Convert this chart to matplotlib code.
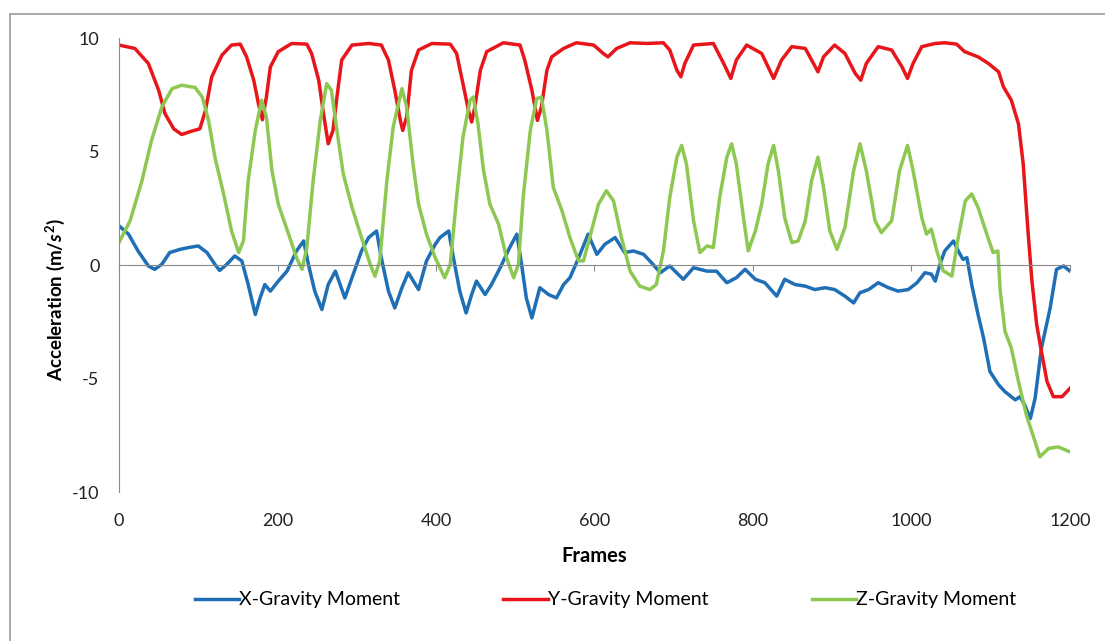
import matplotlib.pyplot as plt
from matplotlib.patches import Rectangle

plt.rcParams['font.family'] = ['Lato', 'DejaVu Sans']
plt.rcParams['axes.unicode_minus'] = False
plt.rcParams['mathtext.fontset'] = 'custom'
plt.rcParams['mathtext.rm'] = 'Lato:bold'
plt.rcParams['mathtext.it'] = 'Lato:italic:bold'

# X-Gravity Moment (blue)
x_frames = [0, 12, 24, 37, 45, 54, 64, 77, 88, 100, 111, 121, 127, 136, 146, 155, 163, 172, 178,
            184, 191, 201, 212, 224, 233, 239, 247, 256, 264, 273, 285, 294, 306, 315, 325, 331,
            340, 348, 357, 365, 378, 388, 399, 405, 416, 422, 430, 438, 445, 451, 462, 470, 481,
            493, 502, 508, 514, 521, 531, 542, 552, 561, 569, 580, 592, 603, 613, 626, 638, 649,
            662, 672, 683, 695, 712, 725, 742, 754, 767, 779, 790, 803, 815, 830, 840, 853, 866,
            878, 891, 903, 916, 927, 935, 946, 958, 971, 983, 996, 1007, 1017, 1025, 1030, 1036,
            1042, 1053, 1059, 1065, 1070, 1076, 1084, 1091, 1099, 1110, 1118, 1131, 1137, 1143,
            1150, 1156, 1164, 1175, 1183, 1192, 1200]
x_vals = [1.73, 1.36, 0.62, -0.04, -0.19, 0.03, 0.55, 0.69, 0.77, 0.84, 0.55, 0.03, -0.24, 0.03,
          0.4, 0.18, -0.86, -2.18, -1.45, -0.86, -1.15, -0.71, -0.27, 0.62, 1.06, 0.03, -1.15,
          -1.96, -0.86, -0.27, -1.45, -0.56, 0.62, 1.21, 1.5, 0.32, -1.15, -1.89, -1.0, -0.34,
          -1.08, 0.18, 0.91, 1.21, 1.5, 0.32, -1.15, -2.11, -1.3, -0.71, -1.3, -0.86, -0.12, 0.77,
          1.36, 0.03, -1.45, -2.33, -1.0, -1.3, -1.45, -0.86, -0.56, 0.32, 1.36, 0.47, 0.91, 1.21,
          0.55, 0.62, 0.47, 0.1, -0.34, -0.04, -0.63, -0.12, -0.27, -0.27, -0.78, -0.56, -0.19,
          -0.63, -0.78, -1.37, -0.63, -0.86, -0.93, -1.08, -1.0, -1.08, -1.37, -1.67, -1.22,
          -1.08, -0.78, -1.0, -1.15, -1.08, -0.78, -0.34, -0.4, -0.71, 0.04, 0.62, 1.06, 0.62,
          0.25, 0.32, -0.86, -2.18, -3.22, -4.69, -5.28, -5.58, -5.94, -5.8, -6.17, -6.76, -5.87,
          -3.66, -1.89, -0.19, -0.04, -0.27]

# Y-Gravity Moment (red)
y_frames = [0, 20, 37, 50, 58, 69, 79, 92, 102, 109, 117, 130, 142, 153, 161, 170, 176, 181,
            186, 191, 201, 218, 237, 243, 252, 258, 264, 270, 275, 281, 294, 315, 331, 340, 348,
            355, 358, 363, 369, 378, 395, 418, 426, 434, 441, 445, 449, 456, 464, 485, 506, 512,
            521, 528, 533, 540, 546, 561, 577, 599, 611, 617, 628, 645, 666, 687, 695, 704, 709,
            714, 725, 750, 763, 772, 779, 792, 811, 826, 836, 849, 866, 874, 882, 889, 903, 916,
            929, 936, 943, 958, 975, 988, 995, 1002, 1013, 1030, 1042, 1057, 1067, 1084, 1097,
            1110, 1116, 1126, 1135, 1141, 1147, 1152, 1158, 1164, 1171, 1179, 1190, 1200]
y_vals = [9.69, 9.54, 8.88, 7.7, 6.67, 6.0, 5.75, 5.9, 6.0, 6.8, 8.29, 9.25, 9.69, 9.73, 9.17,
          8.14, 7.1, 6.4, 7.4, 8.73, 9.4, 9.76, 9.73, 9.32, 8.14, 6.67, 5.34, 5.93, 7.4, 9.03,
          9.69, 9.76, 9.69, 9.03, 7.7, 6.37, 5.93, 6.52, 8.58, 9.47, 9.76, 9.73, 9.32, 7.99, 6.81,
          6.3, 6.96, 8.58, 9.4, 9.79, 9.69, 9.03, 7.7, 6.37, 6.96, 8.58, 9.17, 9.54, 9.79, 9.69,
          9.32, 9.17, 9.54, 9.79, 9.76, 9.79, 9.47, 8.58, 8.29, 8.88, 9.69, 9.76, 8.88, 8.22, 9.03,
          9.69, 9.32, 8.22, 9.03, 9.62, 9.54, 9.03, 8.51, 9.17, 9.69, 9.32, 8.44, 8.14, 8.88,
          9.62, 9.47, 8.73, 8.22, 8.88, 9.62, 9.76, 9.79, 9.73, 9.4, 9.17, 8.88, 8.51, 7.85,
          7.26, 6.22, 4.45, 1.5, -0.71, -2.63, -3.81, -5.13, -5.8, -5.8, -5.43]

# Z-Gravity Moment (green)
z_frames = [0, 14, 29, 41, 54, 67, 79, 96, 105, 113, 121, 132, 142, 151, 157, 163, 172, 180,
            186, 193, 201, 214, 224, 231, 237, 245, 254, 262, 268, 275, 283, 294, 306, 317, 323,
            329, 338, 346, 357, 363, 371, 378, 388, 399, 411, 418, 426, 434, 443, 447, 453, 460,
            468, 479, 489, 498, 504, 510, 519, 527, 533, 540, 548, 559, 569, 580, 586, 594, 605,
            615, 624, 634, 645, 657, 670, 678, 687, 695, 704, 710, 716, 725, 733, 742, 750, 758,
            767, 773, 779, 788, 794, 803, 811, 819, 826, 832, 840, 849, 857, 866, 874, 882, 889,
            897, 906, 916, 927, 935, 943, 954, 962, 975, 985, 995, 1002, 1013, 1019, 1025, 1032,
            1040, 1051, 1059, 1068, 1076, 1084, 1095, 1103, 1109, 1112, 1118, 1126, 1135, 1145,
            1156, 1162, 1173, 1185, 1200]
z_vals = [0.99, 1.95, 3.72, 5.49, 6.96, 7.77, 7.92, 7.82, 7.4, 6.37, 4.75, 3.13, 1.5, 0.55,
          1.06, 3.72, 5.93, 7.26, 6.52, 4.16, 2.68, 1.36, 0.32, -0.19, 0.77, 3.72, 6.37, 7.99,
          7.7, 5.93, 4.01, 2.54, 1.21, 0.03, -0.49, 0.18, 3.72, 6.08, 7.77, 6.96, 4.45, 2.68,
          1.36, 0.32, -0.56, 0.03, 2.98, 5.63, 7.26, 7.4, 6.22, 4.16, 2.68, 1.8, 0.32, -0.56,
          0.03, 2.98, 5.93, 7.33, 7.4, 5.93, 3.42, 2.39, 1.21, 0.18, 0.18, 1.21, 2.68, 3.27,
          2.83, 1.21, -0.27, -0.93, -1.08, -0.86, 0.62, 2.98, 4.75, 5.27, 4.45, 1.95, 0.55,
          0.84, 0.77, 2.98, 4.75, 5.34, 4.45, 2.09, 0.62, 1.5, 2.68, 4.45, 5.27, 4.16, 2.09,
          0.99, 1.06, 1.95, 3.72, 4.75, 3.42, 1.5, 0.69, 1.65, 4.16, 5.34, 4.16, 1.95, 1.43,
          1.95, 4.16, 5.27, 4.16, 2.09, 1.36, 1.58, 0.62, -0.25, -0.49, 1.21, 2.83, 3.13, 2.54,
          1.36, 0.55, 0.62, -1.15, -2.92, -3.66, -5.13, -6.61, -7.79, -8.45, -8.08, -8.01,
          -8.23]

fig = plt.figure(figsize=(11.05, 6.41), dpi=100)
ax = fig.add_axes([0.1077, 0.2324, 0.8606, 0.7083])

ax.plot(x_frames, x_vals, color='#1F6FB6', lw=2.5, label='X-Gravity Moment')
ax.plot(y_frames, y_vals, color='#E8161B', lw=2.5, label='Y-Gravity Moment')
ax.plot(z_frames, z_vals, color='#8DC853', lw=2.5, label='Z-Gravity Moment')

ax.set_xlim(0, 1200)
ax.set_ylim(-10, 10)
ax.set_xticks(range(0, 1201, 200))
ax.set_yticks([-10, -5, 0, 5, 10])

for s in ['top', 'right']:
    ax.spines[s].set_visible(False)
ax.spines['left'].set_color('#8a8a8a')
ax.spines['bottom'].set_color('#8a8a8a')
ax.spines['bottom'].set_position(('data', 0))
ax.tick_params(axis='x', direction='out', length=4, color='#8a8a8a', labelbottom=False)
ax.tick_params(axis='y', length=0, pad=14, labelsize=13, labelcolor='#222222')

sec = ax.secondary_xaxis('bottom')
sec.spines['bottom'].set_visible(False)
sec.set_xticks(range(0, 1201, 200))
sec.tick_params(length=0, pad=15, labelsize=13, labelcolor='#222222')
sec.set_xlabel('Frames', fontsize=14.5, fontweight='bold', labelpad=12)

fig.text(55 / 1105, 0.532, r'Acceleration (m/$s^2$)', rotation=90, ha='center', va='center',
         fontsize=13.5, fontweight='bold')

fig.legend(loc='center', bbox_to_anchor=(0.548, 0.064), ncol=3, frameon=False, fontsize=14,
           handlelength=2.3, handletextpad=0.0, columnspacing=5.3)

fig.patches.append(Rectangle((10 / 1105, -0.1), 1.2, 1.1 - 14 / 641, transform=fig.transFigure,
                             fill=False, edgecolor='#9a9a9a', lw=1.2))

fig.savefig('out.png', dpi=100)
